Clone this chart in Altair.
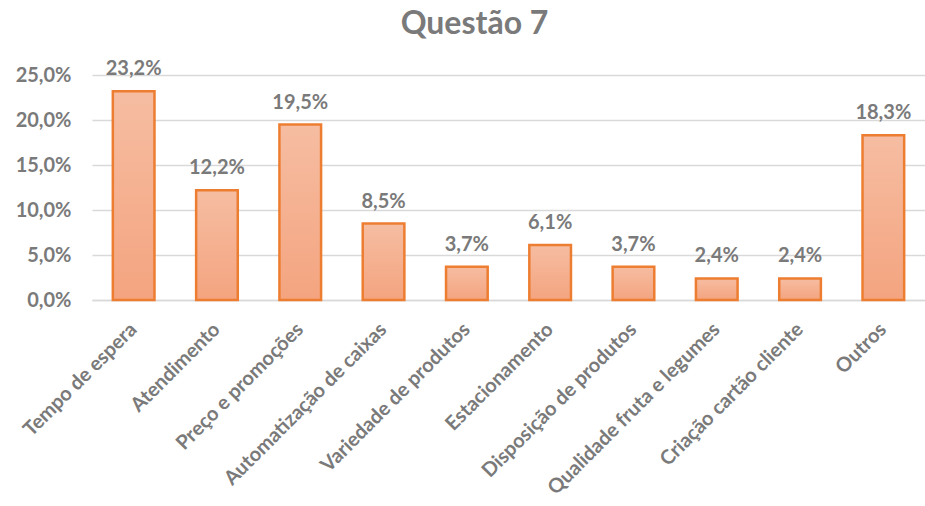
import altair as alt
import pandas as pd

categories = ["Tempo de espera", "Atendimento", "Preço e promoções", "Automatização de caixas",
              "Variedade de produtos", "Estacionamento", "Disposição de produtos",
              "Qualidade fruta e legumes", "Criação cartão cliente", "Outros"]
values = [23.2, 12.2, 19.5, 8.5, 3.7, 6.1, 3.7, 2.4, 2.4, 18.3]
y_ticks = [0, 5, 10, 15, 20, 25]

df = pd.DataFrame({"cat": categories, "v": values})

FONT = "Lato"
GRAY = "#7a7a7a"

base = alt.Chart(df).transform_calculate(
    lab="replace(format(datum.v, '.1f'), '.', ',') + '%'"
)

x = alt.X("cat:N", sort=categories, title=None,
          scale=alt.Scale(paddingInner=0.5, paddingOuter=0.25),
          axis=alt.Axis(labelAngle=-45, labelAlign="right", labelBaseline="middle",
                        labelFontSize=20, labelFont=FONT, labelColor=GRAY,
                        labelFontWeight="bold",
                        ticks=False, labelPadding=26, domainColor="#d9d9d9",
                        domainWidth=1.5, labelLimit=400))
y = alt.Y("v:Q", title=None, scale=alt.Scale(domain=[0, 25], nice=False),
          axis=alt.Axis(values=y_ticks, ticks=False, domain=False,
                        labelExpr="replace(format(datum.value, '.1f'), '.', ',') + '%'",
                        labelFontSize=20, labelFont=FONT, labelColor=GRAY,
                        labelFontWeight="bold",
                        labelPadding=21, gridColor="#d9d9d9", gridWidth=1.5))

bars = base.mark_bar(
    fill=alt.Gradient(gradient="linear",
                      stops=[alt.GradientStop(color="#F6BDA2", offset=0),
                             alt.GradientStop(color="#F4A47F", offset=1)],
                      x1=1, x2=1, y1=0, y2=1),
    stroke="#ED7D31", strokeWidth=2.5
).encode(x=x, y=y)

texts = base.mark_text(baseline="alphabetic", dy=-16, fontSize=20, font=FONT,
                       fontWeight="bold", color=GRAY).encode(
    x=alt.X("cat:N", sort=categories), y="v:Q", text="lab:N")

chart = (bars + texts).properties(
    width=833, height=225,
    title=alt.TitleParams("Questão 7", fontSize=32, font=FONT, fontWeight="bold",
                          color=GRAY, anchor="middle", dx=-34, offset=18),
    autosize=alt.AutoSizeParams(type="none"),
    padding={"left": 92, "top": 75, "right": 0, "bottom": 206},
).configure_view(stroke=None)

chart.save("out.html", embed_options={"renderer": "svg", "actions": False})
